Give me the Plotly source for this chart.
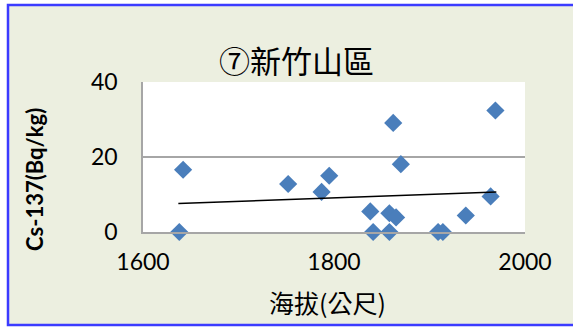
import plotly.graph_objects as go

# Data
altitude_m = [1638, 1642, 1752, 1787, 1795, 1838, 1841, 1858, 1858, 1862, 1865, 1870, 1909, 1914, 1938, 1964, 1969]
cs137_bqkg = [0, 16.6, 12.8, 10.7, 15.0, 5.5, 0, 0, 5.0, 29.1, 3.9, 18.1, 0, 0, 4.4, 9.5, 32.4]
trend_x = [1637, 1970]
trend_y = [7.6, 10.7]

x_ticks = [1600, 1800, 2000]
y_ticks = [0, 20, 40]

title_text = "⑦新竹山區"
x_title = "海拔(公尺)"
y_title = "Cs-137(Bq/kg)"

W, H = 573, 327
L, R, T, B = 143, 48, 82, 95
pw, ph = W - L - R, H - T - B

def px_to_paper_x(px):
    return (px - L) / pw

def px_to_paper_y(py):
    return (H - B - py) / ph

fig = go.Figure()

fig.add_trace(go.Scatter(
    x=altitude_m, y=cs137_bqkg, mode="markers",
    marker=dict(symbol="diamond", size=14, color="#4A7EBB"),
    cliponaxis=False, showlegend=False, hoverinfo="x+y",
))
fig.add_trace(go.Scatter(
    x=trend_x, y=trend_y, mode="lines",
    line=dict(color="black", width=1.5),
    showlegend=False, hoverinfo="skip",
))

tick_font = dict(family="Lato, Open Sans, sans-serif", size=23, color="black")

fig.update_layout(
    width=W, height=H,
    margin=dict(l=L, r=R, t=T, b=B),
    paper_bgcolor="white",
    plot_bgcolor="white",
    xaxis=dict(
        range=[1600, 2000], tickvals=x_ticks, ticktext=[str(v) for v in x_ticks],
        showgrid=False, zeroline=False, showline=True, linecolor="#A6A6A6", linewidth=1.5,
        ticks="", tickfont=tick_font, ticklabelstandoff=9,
    ),
    yaxis=dict(
        range=[0, 40], tickvals=y_ticks, ticktext=[str(v) for v in y_ticks],
        showgrid=True, gridcolor="#A6A6A6", gridwidth=1.5,
        zeroline=False, showline=True, linecolor="#A6A6A6", linewidth=1.5,
        ticks="", tickfont=tick_font, ticklabelstandoff=19,
    ),
    shapes=[
        dict(type="rect", xref="paper", yref="paper", layer="below",
             x0=px_to_paper_x(8), x1=px_to_paper_x(590),
             y0=px_to_paper_y(325), y1=px_to_paper_y(5),
             fillcolor="#ECEFE0", line=dict(color="#3B3BFF", width=2.5)),
        dict(type="rect", xref="paper", yref="paper", layer="below",
             x0=0, x1=1, y0=0, y1=1, fillcolor="white", line=dict(width=0)),
    ],
    annotations=[
        dict(text=title_text, xref="paper", yref="paper",
             x=px_to_paper_x(296), y=px_to_paper_y(60), xanchor="center", yanchor="middle",
             showarrow=False, font=dict(family="Noto Sans CJK TC", size=31, color="black")),
        dict(text=x_title, xref="paper", yref="paper",
             x=px_to_paper_x(327), y=px_to_paper_y(302), xanchor="center", yanchor="middle",
             showarrow=False, font=dict(family="Noto Sans CJK TC", size=25, color="black")),
        dict(text="<b>" + y_title + "</b>", xref="paper", yref="paper", textangle=-90,
             x=px_to_paper_x(34), y=px_to_paper_y(180), xanchor="center", yanchor="middle",
             showarrow=False, font=dict(family="Lato, Open Sans, sans-serif", size=22, color="black")),
    ],
)

fig.write_html("out.html")
